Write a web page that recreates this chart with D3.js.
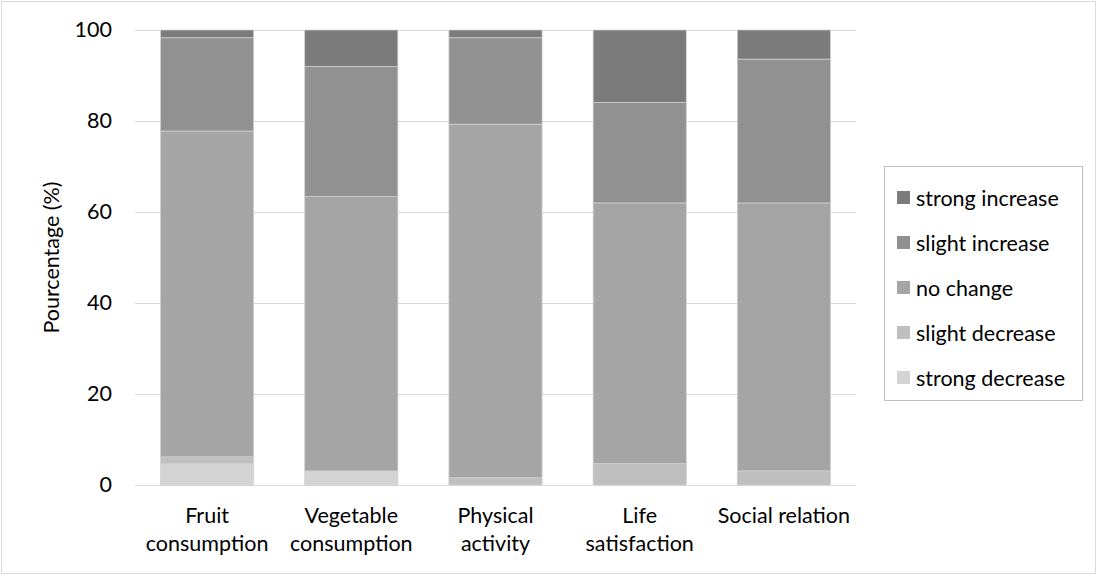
<!DOCTYPE html>
<html>
<head>
<meta charset="utf-8">
<script src="https://cdn.jsdelivr.net/npm/d3@7"></script>
<style>
  html, body { margin: 0; padding: 0; background: #fff; }
  svg { display: block; font-family: Lato, "Open Sans", sans-serif; }
</style>
</head>
<body>
<svg id="chart" width="1098" height="576"></svg>
<script>
// ---- data ----
const categories = ["Fruit consumption", "Vegetable consumption", "Physical activity", "Life satisfaction", "Social relation"];
const categoryLines = [["Fruit", "consumption"], ["Vegetable", "consumption"], ["Physical", "activity"], ["Life", "satisfaction"], ["Social relation"]];
const seriesNames = ["strong decrease", "slight decrease", "no change", "slight increase", "strong increase"];
const strongDecrease = [4.7, 3.1, 0, 0, 0];
const slightDecrease = [1.5, 0, 1.6, 4.7, 3.1];
const noChange = [71.6, 60.3, 77.7, 57.3, 58.9];
const slightIncrease = [20.5, 28.6, 19.0, 22.1, 31.6];
const strongIncrease = [1.7, 8.0, 1.7, 15.9, 6.4];
const yTicks = [0, 20, 40, 60, 80, 100];
const colors = ["#d4d4d4", "#bfbfbf", "#a5a5a5", "#919191", "#7b7b7b"];

const seriesValues = [strongDecrease, slightDecrease, noChange, slightIncrease, strongIncrease];
const rows = categories.map((c, i) => {
  const r = { cat: c };
  seriesNames.forEach((s, j) => r[s] = seriesValues[j][i]);
  return r;
});

const FS = 21.5;
const svg = d3.select("#chart");

// chart border
svg.append("rect").attr("x", 1.5).attr("y", 1.5).attr("width", 1094).attr("height", 572)
  .attr("fill", "#fff").attr("stroke", "#d9d9d9").attr("stroke-width", 1);

const plot = { left: 135, right: 856, top: 30, bottom: 485 };

const x = d3.scaleBand().domain(categories).range([plot.left, plot.right])
  .paddingInner(0.354).paddingOuter(0.177);
const y = d3.scaleLinear().domain([0, 100]).range([plot.bottom, plot.top]);

// gridlines
svg.append("g").selectAll("line").data(yTicks).join("line")
  .attr("x1", plot.left).attr("x2", plot.right)
  .attr("y1", d => Math.round(y(d)) + 0.5).attr("y2", d => Math.round(y(d)) + 0.5)
  .attr("stroke", "#d9d9d9").attr("stroke-width", 1);

// y axis labels
const yAxis = d3.axisLeft(y).tickValues(yTicks).tickSize(0).tickPadding(0);
const yg = svg.append("g").attr("transform", `translate(112,0)`).call(yAxis);
yg.select(".domain").remove();
yg.selectAll("text").attr("font-size", FS).attr("fill", "#000").attr("font-family", "Lato, sans-serif");

// stacked bars
const stack = d3.stack().keys(seriesNames)(rows);
svg.append("g").selectAll("g").data(stack).join("g")
  .attr("fill", (d, i) => colors[i])
  .selectAll("rect").data(d => d.filter(p => p[1] - p[0] > 0)).join("rect")
  .attr("x", d => x(d.data.cat))
  .attr("width", x.bandwidth())
  .attr("y", d => y(d[1]))
  .attr("height", d => y(d[0]) - y(d[1]))
  .attr("stroke", "#d0d0d0").attr("stroke-width", 0.75);

// x labels
const xl = svg.append("g").selectAll("text").data(categories).join("text")
  .attr("x", d => x(d) + x.bandwidth() / 2)
  .attr("y", 523)
  .attr("text-anchor", "middle")
  .attr("font-size", FS).attr("fill", "#000");
xl.each(function(d, i) {
  const t = d3.select(this);
  categoryLines[i].forEach((line, k) => {
    t.append("tspan").attr("x", x(d) + x.bandwidth() / 2).attr("dy", k === 0 ? 0 : 28).text(line);
  });
});

// y title
svg.append("text")
  .attr("transform", `translate(59, ${(plot.top + plot.bottom) / 2}) rotate(-90)`)
  .attr("text-anchor", "middle")
  .attr("font-size", FS).attr("fill", "#000")
  .text("Pourcentage (%)");

// legend
const legend = svg.append("g");
legend.append("rect").attr("x", 884.5).attr("y", 166.5).attr("width", 198).attr("height", 234)
  .attr("fill", "#fff").attr("stroke", "#bfbfbf").attr("stroke-width", 1);
const legendOrder = seriesNames.slice().reverse();
const li = legend.selectAll("g.item").data(legendOrder).join("g").attr("class", "item")
  .attr("transform", (d, i) => `translate(0, ${198 + i * 45})`);
li.append("rect").attr("x", 897).attr("y", -7).attr("width", 13).attr("height", 13)
  .attr("fill", d => colors[seriesNames.indexOf(d)]);
li.append("text").attr("x", 916).attr("y", 0).attr("dy", "0.35em")
  .attr("font-size", FS).attr("fill", "#000").text(d => d);
</script>
</body>
</html>
